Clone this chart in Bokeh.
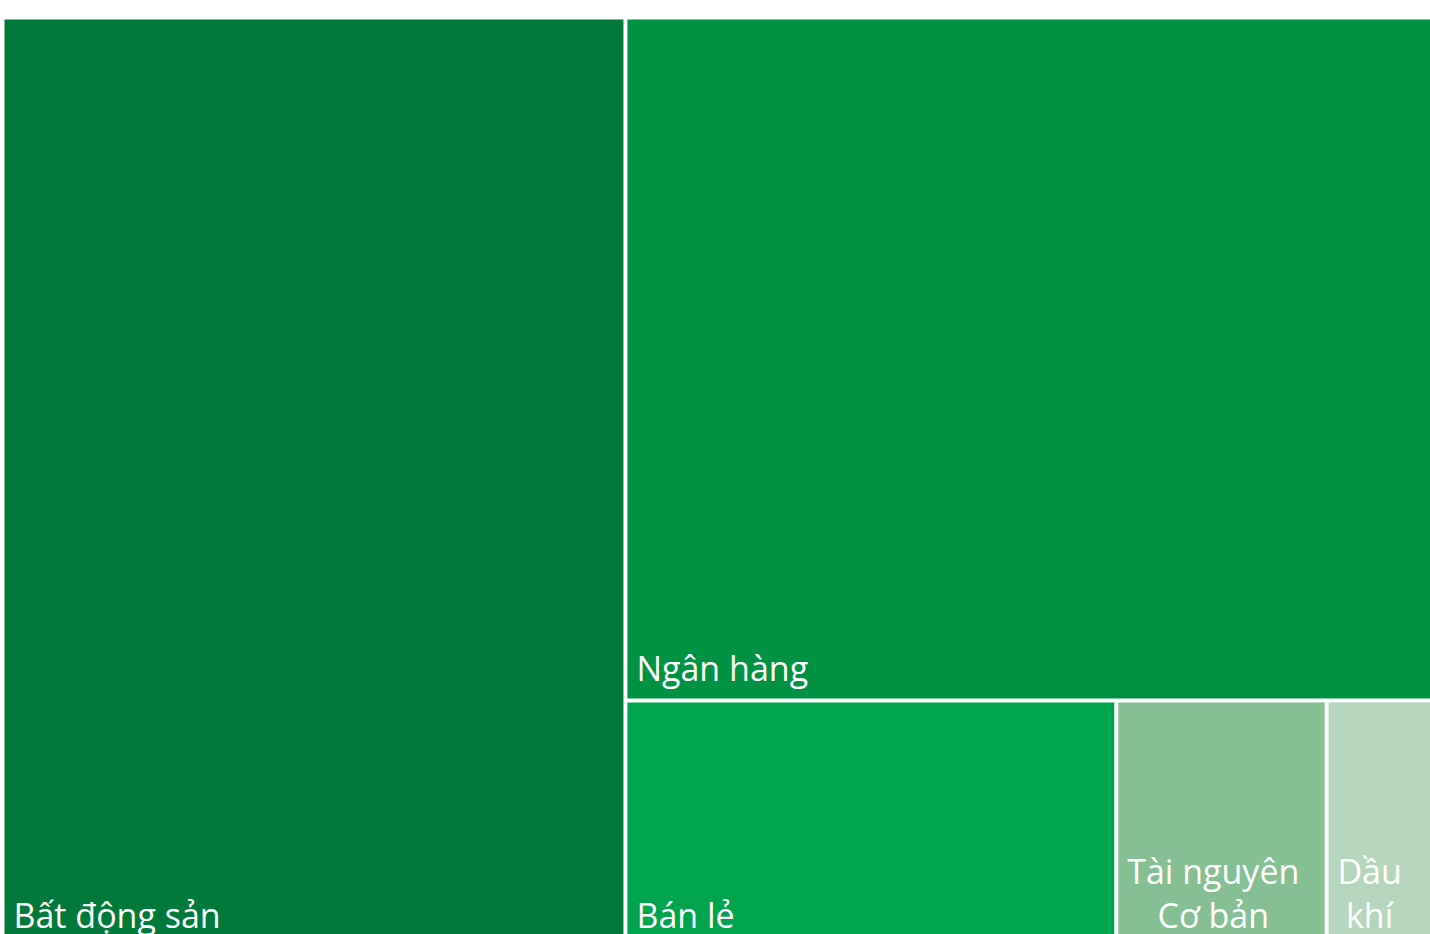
from bokeh.plotting import figure
from bokeh.models import Range1d, ColumnDataSource
from bokeh.core.properties import value
from bokeh.embed import file_html
from bokeh.resources import INLINE

# ---- data ----
sectors = ["Bất động sản", "Ngân hàng", "Bán lẻ", "Tài nguyên Cơ bản", "Dầu khí"]
shares = [43.5, 41.5, 9.1, 3.9, 2.0]
colors = ["#00793A", "#009142", "#00A34E", "#86BF93", "#B6D5BD"]
label_lines = [["Bất động sản"], ["Ngân hàng"], ["Bán lẻ"], ["Tài nguyên", "Cơ bản"], ["Dầu", "khí"]]

# ---- layout (pixel-like data space) ----
X0, X1, Y0, Y1 = 2.0, 1434.0, 17.0, 947.0
GAP = 2.0
total = sum(shares)
W, H = X1 - X0, Y1 - Y0

cells = []
# first sector: full-height column
wx = shares[0] / total * W
cells.append((X0, X0 + wx, Y0, Y1))
rest = sum(shares[1:])
# second sector: full-width row on top of the remainder
hy = shares[1] / rest * H
cells.append((X0 + wx, X1, Y0, Y0 + hy))
# remaining sectors: bottom row
bottom = sum(shares[2:])
x = X0 + wx
rw = X1 - x
for s in shares[2:]:
    w = s / bottom * rw
    cells.append((x, x + w, Y0 + hy, Y1))
    x += w

src = ColumnDataSource(dict(
    left=[c[0] + GAP for c in cells],
    right=[c[1] - GAP for c in cells],
    top=[c[2] + GAP for c in cells],
    bottom=[c[3] - GAP for c in cells],
    color=colors,
    name=sectors,
    share=shares,
))

p = figure(width=1430, height=934, output_backend="svg", toolbar_location=None,
           x_range=Range1d(0, 1430), y_range=Range1d(934, 0),
           x_axis_location=None, y_axis_location=None, min_border=0)
p.outline_line_color = None
p.xgrid.visible = False
p.ygrid.visible = False
p.background_fill_color = "white"
p.border_fill_color = "white"

p.quad(left="left", right="right", top="top", bottom="bottom", color="color",
       line_color=None, source=src)

# labels
LINE_H = 44
FONT = "34px"
tx, ty, tt, talign = [], [], [], []
multi_offsets = {3: 95, 4: 41}
for i, (c, lines) in enumerate(zip(cells, label_lines)):
    left = c[0] + GAP
    base = c[3] - GAP - 31
    n = len(lines)
    for j, ln in enumerate(lines):
        y = base - (n - 1 - j) * LINE_H
        if n == 1:
            tx.append(left + 9); talign.append("left")
        else:
            tx.append(left + multi_offsets[i]); talign.append("center")
        ty.append(y); tt.append(ln)

lsrc = ColumnDataSource(dict(x=tx, y=ty, text=tt, align=talign))
p.text(x="x", y="y", text="text", source=lsrc, text_color="white",
       text_font=value("Open Sans"), text_font_size=value(FONT),
       text_baseline="alphabetic", text_align="align")

open("out.html", "w").write(file_html(p, INLINE))
